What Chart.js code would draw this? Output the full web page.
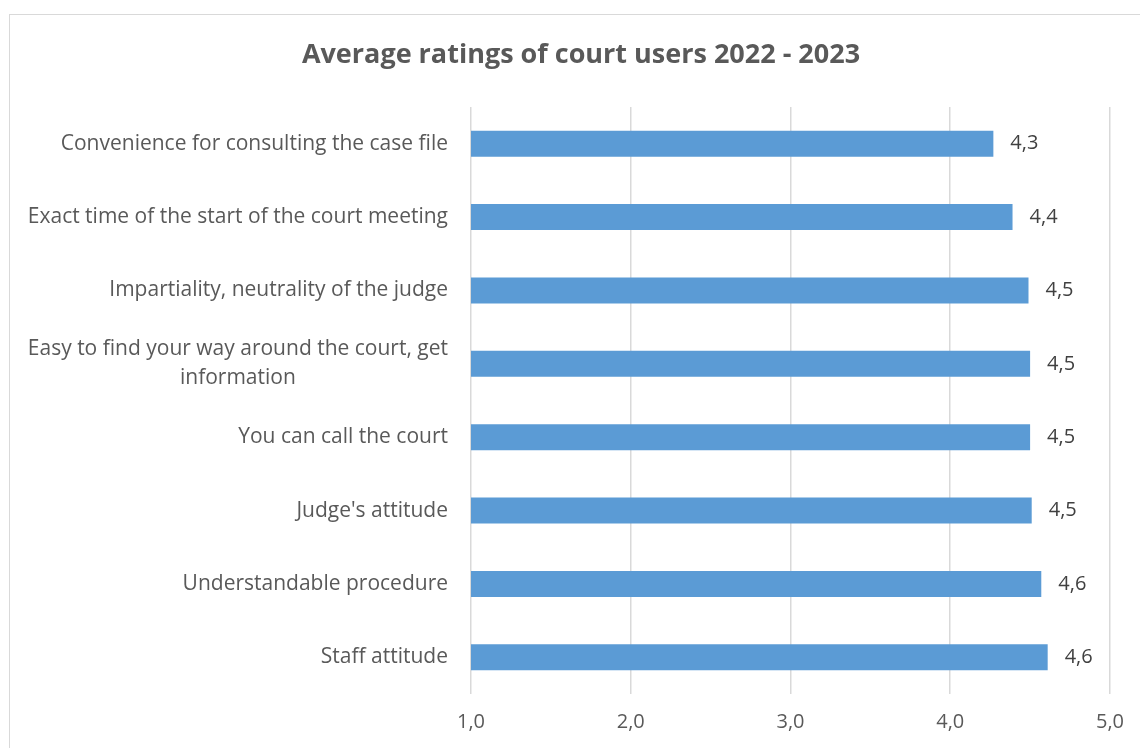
<!DOCTYPE html>
<html>
<head>
<meta charset="utf-8">
<title>Average ratings of court users 2022 - 2023</title>
<script src="https://cdn.jsdelivr.net/npm/chart.js@4.4.3/dist/chart.umd.min.js"></script>
<style>
  html, body { margin: 0; padding: 0; background: #fff; overflow: hidden; }
  #frame { position: absolute; left: 9px; top: 14px; width: 1160px; height: 760px; border: 1px solid #d9d9d9; box-sizing: border-box; }
  #chart { position: absolute; left: 0; top: 0; }
</style>
</head>
<body>
<div id="frame"></div>
<canvas id="chart" width="1140" height="748"></canvas>
<script>
const FONT = "'Open Sans', 'Liberation Sans', sans-serif";

const categories = [
  "Convenience for consulting the case file",
  "Exact time of the start of the court meeting",
  "Impartiality, neutrality of the judge",
  ["Easy to find your way around the court, get", "information"],
  "You can call the court",
  "Judge's attitude",
  "Understandable procedure",
  "Staff attitude"
];
const ratings = [4.27, 4.39, 4.49, 4.50, 4.50, 4.51, 4.57, 4.61];
const axisMin = 1;
const axisMax = 5;

const fmt = v => v.toFixed(1).replace(".", ",");

// category names drawn right-aligned; wrapped names are centred on their widest line
const categoryLabels = {
  id: "categoryLabels",
  afterDraw(chart) {
    const ctx = chart.ctx;
    const y = chart.scales.y;
    const right = chart.chartArea.left - 23;
    ctx.save();
    ctx.font = "21px " + FONT;
    ctx.fillStyle = "#595959";
    ctx.textBaseline = "middle";
    categories.forEach((name, i) => {
      const cy = y.getPixelForValue(i);
      if (Array.isArray(name)) {
        const w = Math.max(...name.map(s => ctx.measureText(s).width));
        const step = 29;
        ctx.textAlign = "center";
        name.forEach((line, k) => {
          ctx.fillText(line, right - w / 2, cy + (k - (name.length - 1) / 2) * step);
        });
      } else {
        ctx.textAlign = "right";
        ctx.fillText(name, right, cy);
      }
    });
    ctx.restore();
  }
};

// value labels just past the end of each bar
const valueLabels = {
  id: "valueLabels",
  afterDatasetsDraw(chart) {
    const ctx = chart.ctx;
    const meta = chart.getDatasetMeta(0);
    ctx.save();
    ctx.font = "20px " + FONT;
    ctx.fillStyle = "#404040";
    ctx.textAlign = "left";
    ctx.textBaseline = "middle";
    meta.data.forEach((bar, i) => {
      ctx.fillText(fmt(ratings[i]), bar.x + 17, bar.y);
    });
    ctx.restore();
  }
};

new Chart(document.getElementById("chart"), {
  type: "bar",
  data: {
    labels: categories,
    datasets: [{
      data: ratings,
      backgroundColor: "#5b9bd5",
      borderWidth: 0,
      categoryPercentage: 1,
      barPercentage: 0.355
    }]
  },
  options: {
    indexAxis: "y",
    responsive: false,
    animation: false,
    layout: { padding: { left: 52, right: 30, top: 0, bottom: 12 } },
    plugins: {
      legend: { display: false },
      tooltip: { enabled: false },
      title: {
        display: true,
        text: "Average ratings of court users 2022 - 2023",
        color: "#595959",
        font: { family: FONT, size: 27, weight: "bold" },
        padding: { top: 39, bottom: 35.6 }
      }
    },
    scales: {
      x: {
        min: axisMin,
        max: axisMax,
        border: { display: false },
        grid: { color: "#d9d9d9", lineWidth: 1.5, drawTicks: false },
        ticks: {
          stepSize: 1,
          padding: 16,
          color: "#595959",
          font: { family: FONT, size: 20 },
          callback: v => fmt(v)
        },
        afterFit: s => { s.height = 42; }
      },
      y: {
        border: { display: false },
        grid: { display: false },
        ticks: { display: false },
        afterFit: s => { s.width = 419; }
      }
    }
  },
  plugins: [categoryLabels, valueLabels]
});
</script>
</body>
</html>
